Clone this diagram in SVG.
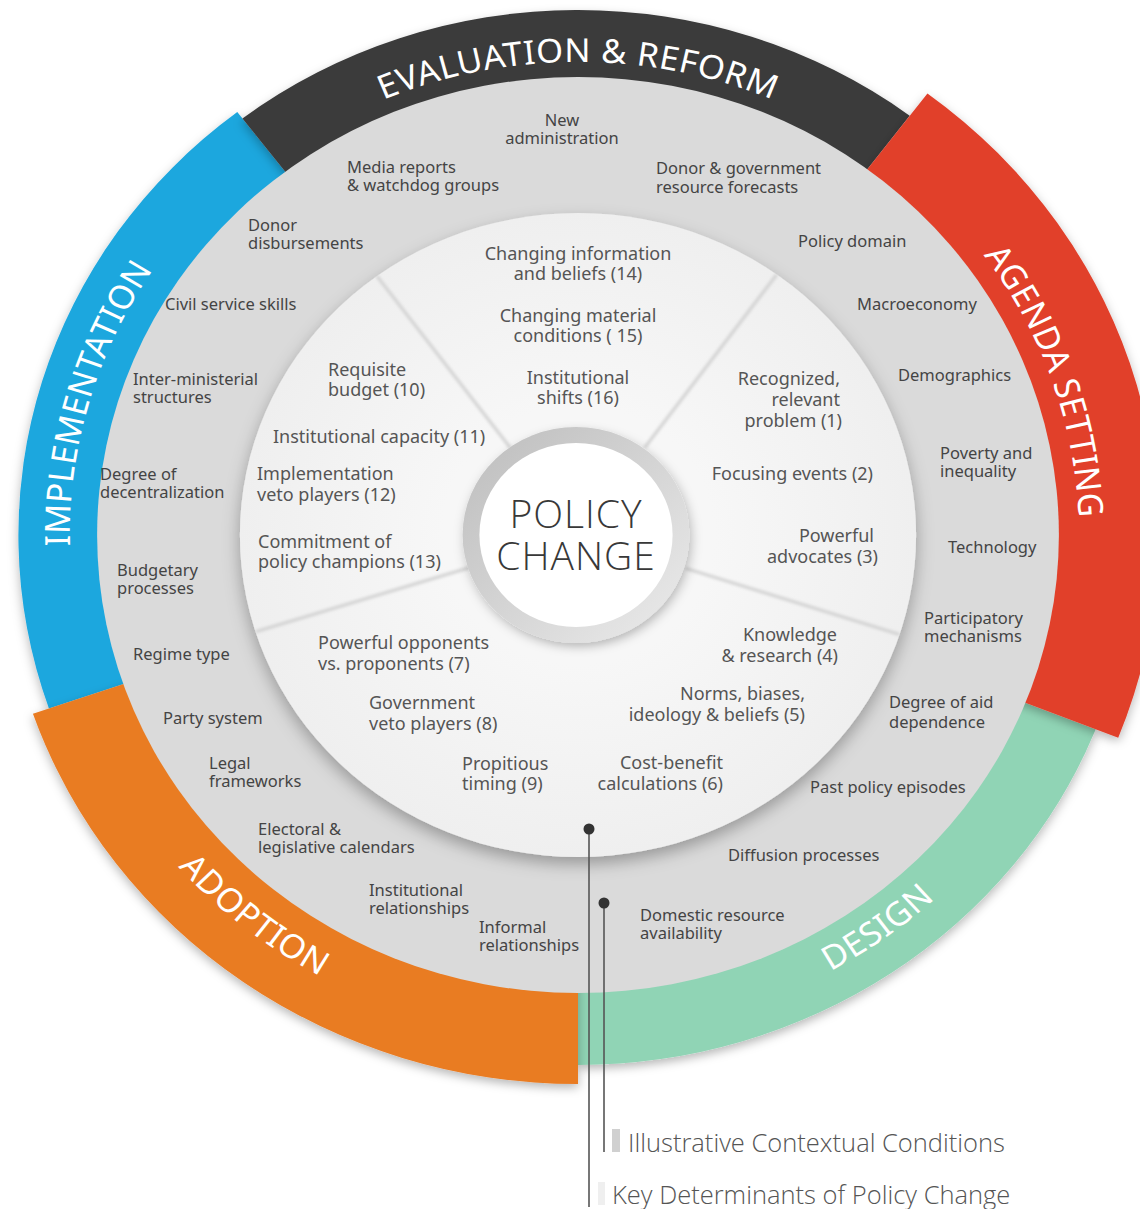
<svg xmlns="http://www.w3.org/2000/svg" width="1140" height="1209" viewBox="0 0 1140 1209">
<defs>
<style>
text{font-family:'Noto Sans','DejaVu Sans',sans-serif}
.ctx{font-size:16.5px;fill:#444444}
.det{font-size:18px;fill:#555555}
.seg{font-size:33px;fill:#ffffff;letter-spacing:0.5px}
.mid{text-anchor:middle}
.end{text-anchor:end}
.ctr{font-family:'Open Sans','Noto Sans',sans-serif;font-size:39px;fill:#383838;font-weight:300;text-anchor:middle;letter-spacing:1px}
.leg{font-family:'Open Sans','Noto Sans',sans-serif;font-size:25.5px;fill:#555555;font-weight:300}
.divl{stroke:#d2d2d2;stroke-width:3;filter:url(#blur)}
.conn{stroke:#555555;stroke-width:1.6;fill:none}
.dot{fill:#333333}
</style>
<filter id="segShadow" x="-20%" y="-20%" width="140%" height="140%">
<feDropShadow dx="0" dy="4" stdDeviation="5" flood-color="#000" flood-opacity="0.28"/>
</filter>
<filter id="diskShadow" x="-20%" y="-20%" width="140%" height="140%">
<feDropShadow dx="0" dy="7" stdDeviation="8" flood-color="#000" flood-opacity="0.3"/>
</filter>
<filter id="ctrShadow" x="-30%" y="-30%" width="160%" height="160%">
<feDropShadow dx="2" dy="4" stdDeviation="5" flood-color="#000" flood-opacity="0.25"/>
</filter>
<filter id="blur" x="-20%" y="-20%" width="140%" height="140%">
<feGaussianBlur stdDeviation="1.5"/>
</filter>
<linearGradient id="ringGrad" x1="0" y1="0" x2="1" y2="1">
<stop offset="0" stop-color="#bcbcbc"/>
<stop offset="1" stop-color="#ececec"/>
</linearGradient>
<radialGradient id="whiteGrad" cx="0.5" cy="0.5" r="0.5">
<stop offset="0.4" stop-color="#f7f7f7"/>
<stop offset="1" stop-color="#efefef"/>
</radialGradient>
<path id="pEval" d="M -444.5 -161.8 A 473 473 0 0 1 444.5 -161.8"/>
<path id="pAgenda" d="M 171.0 -445.3 A 477 477 0 0 1 408.9 245.7"/>
<path id="pImpl" d="M -401.2 270.7 A 484 484 0 0 1 -196.9 -442.2"/>
<path id="pAdopt" d="M -504.9 8.8 A 505 505 0 0 0 96.4 495.7"/>
<path id="pDesign" d="M -120.5 483.2 A 498 498 0 0 0 496.8 34.8"/>
</defs>

<rect width="1140" height="1209" fill="#ffffff"/>

<g id="wheel" transform="translate(578,535) scale(1.05,1)">
  <g id="stage-implementation">
    <path d="M -503.9 173.5 A 533 533 0 0 1 -324.5 -422.9 L -267.9 -349.1 A 440 440 0 0 0 -416.0 143.3 Z" fill="#1fa7de" filter="url(#segShadow)"/>
    <text class="seg"><textPath href="#pImpl" startOffset="50%" text-anchor="middle">IMPLEMENTATION</textPath></text>
  </g>
  <g id="stage-evaluation">
    <path d="M -319.6 -416.5 A 525 525 0 0 1 315.9 -419.3 L 264.8 -351.4 A 440 440 0 0 0 -267.9 -349.1 Z" fill="#3b3b3b" filter="url(#segShadow)"/>
    <text class="seg"><textPath href="#pEval" startOffset="50%" text-anchor="middle">EVALUATION &amp; REFORM</textPath></text>
  </g>
  <g id="stage-design">
    <path d="M 493.1 194.2 A 530 530 0 0 1 0 530 L 0 440 A 440 440 0 0 0 409.4 161.3 Z" fill="#90d4b5" filter="url(#segShadow)"/>
    <text class="seg"><textPath href="#pDesign" startOffset="50%" text-anchor="middle">DESIGN</textPath></text>
  </g>
  <g id="stage-adoption">
    <path d="M 0 549 A 549 549 0 0 1 -519.1 178.8 L -416.0 143.3 A 440 440 0 0 0 0 440 Z" fill="#e97b22" filter="url(#segShadow)"/>
    <text class="seg"><textPath href="#pAdopt" startOffset="50%" text-anchor="middle">ADOPTION</textPath></text>
  </g>
  <g id="stage-agenda">
    <path d="M 332.8 -441.6 A 553 553 0 0 1 514.5 202.7 L 409.4 161.3 A 440 440 0 0 0 264.8 -351.4 Z" fill="#e1402c" filter="url(#segShadow)"/>
    <text class="seg"><textPath href="#pAgenda" startOffset="50%" text-anchor="middle">AGENDA SETTING</textPath></text>
  </g>
  <circle id="context-ring" r="458" fill="#dadada"/>
  <circle id="determinant-disk" r="322" fill="url(#whiteGrad)" filter="url(#diskShadow)"/>
  <g id="sector-dividers">
    <line class="divl" x1="-64.2" y1="-86.8" x2="-191.5" y2="-258.9"/>
    <line class="divl" x1="63.5" y1="-87.4" x2="189.3" y2="-260.5"/>
    <line class="divl" x1="102.7" y1="33.4" x2="306.3" y2="99.5"/>
    <line class="divl" x1="0" y1="108" x2="0" y2="322"/>
    <line class="divl" x1="-103.0" y1="32.5" x2="-307.1" y2="96.8"/>
  </g>
</g>

<g id="policy-change">
  <g transform="translate(576,535) scale(1.05,1)">
    <circle r="108" fill="url(#ringGrad)" filter="url(#ctrShadow)"/>
    <circle r="92" fill="#ffffff"/>
  </g>
  <text class="ctr" x="576" y="528">POLICY<tspan x="576" dy="42">CHANGE</tspan></text>
</g>

<g id="context-conditions">
  <text id="c-new-admin" class="ctx mid" x="562" y="126">New<tspan x="562" dy="18">administration</tspan></text>
  <text id="c-media" class="ctx" x="347" y="173">Media reports<tspan x="347" dy="18">&amp; watchdog groups</tspan></text>
  <text id="c-forecasts" class="ctx" x="656" y="174">Donor &amp; government<tspan x="656" dy="19">resource forecasts</tspan></text>
  <text id="c-disbursements" class="ctx" x="248" y="231">Donor<tspan x="248" dy="18">disbursements</tspan></text>
  <text id="c-policy-domain" class="ctx" x="798" y="247">Policy domain</text>
  <text id="c-civil-service" class="ctx" x="165" y="310">Civil service skills</text>
  <text id="c-macro" class="ctx" x="857" y="310">Macroeconomy</text>
  <text id="c-interministerial" class="ctx" x="133" y="385">Inter-ministerial<tspan x="133" dy="18">structures</tspan></text>
  <text id="c-demographics" class="ctx" x="898" y="381">Demographics</text>
  <text id="c-decentralization" class="ctx" x="100" y="480">Degree of<tspan x="100" dy="18">decentralization</tspan></text>
  <text id="c-poverty" class="ctx" x="940" y="459">Poverty and<tspan x="940" dy="18">inequality</tspan></text>
  <text id="c-budgetary" class="ctx" x="117" y="576">Budgetary<tspan x="117" dy="18">processes</tspan></text>
  <text id="c-technology" class="ctx" x="948" y="553">Technology</text>
  <text id="c-regime" class="ctx" x="133" y="660">Regime type</text>
  <text id="c-participatory" class="ctx" x="924" y="624">Participatory<tspan x="924" dy="18">mechanisms</tspan></text>
  <text id="c-party" class="ctx" x="163" y="724">Party system</text>
  <text id="c-aid" class="ctx" x="889" y="708">Degree of aid<tspan x="889" dy="20">dependence</tspan></text>
  <text id="c-legal" class="ctx" x="209" y="769">Legal<tspan x="209" dy="18">frameworks</tspan></text>
  <text id="c-past" class="ctx" x="810" y="793">Past policy episodes</text>
  <text id="c-electoral" class="ctx" x="258" y="835">Electoral &amp;<tspan x="258" dy="18">legislative calendars</tspan></text>
  <text id="c-diffusion" class="ctx" x="728" y="861">Diffusion processes</text>
  <text id="c-institutional-rel" class="ctx" x="369" y="896">Institutional<tspan x="369" dy="18">relationships</tspan></text>
  <text id="c-informal-rel" class="ctx" x="479" y="933">Informal<tspan x="479" dy="18">relationships</tspan></text>
  <text id="c-domestic" class="ctx" x="640" y="921">Domestic resource<tspan x="640" dy="18">availability</tspan></text>
</g>

<g id="key-determinants">
  <text id="d14" class="det mid" x="578" y="260">Changing information<tspan x="578" dy="20">and beliefs (14)</tspan></text>
  <text id="d15" class="det mid" x="578" y="322">Changing material<tspan x="578" dy="20">conditions ( 15)</tspan></text>
  <text id="d16" class="det mid" x="578" y="384">Institutional<tspan x="578" dy="20">shifts (16)</tspan></text>
  <text id="d10" class="det" x="328" y="376">Requisite<tspan x="328" dy="20">budget (10)</tspan></text>
  <text id="d11" class="det" x="273" y="443">Institutional capacity (11)</text>
  <text id="d12" class="det" x="257" y="480">Implementation<tspan x="257" dy="21">veto players (12)</tspan></text>
  <text id="d13" class="det" x="258" y="548">Commitment of<tspan x="258" dy="20">policy champions (13)</tspan></text>
  <text id="d1" class="det end" x="840" y="385">Recognized,<tspan x="840" dy="21">relevant</tspan><tspan x="842" dy="21">problem (1)</tspan></text>
  <text id="d2" class="det end" x="873" y="480">Focusing events (2)</text>
  <text id="d3" class="det end" x="874" y="542">Powerful<tspan x="878" dy="21">advocates (3)</tspan></text>
  <text id="d4" class="det end" x="837" y="641">Knowledge<tspan x="838" dy="21">&amp; research (4)</tspan></text>
  <text id="d5" class="det end" x="805" y="700">Norms, biases,<tspan x="805" dy="21">ideology &amp; beliefs (5)</tspan></text>
  <text id="d6" class="det end" x="723" y="769">Cost-benefit<tspan x="723" dy="21">calculations (6)</tspan></text>
  <text id="d7" class="det" x="318" y="649">Powerful opponents<tspan x="318" dy="21">vs. proponents (7)</tspan></text>
  <text id="d8" class="det" x="369" y="709">Government<tspan x="369" dy="21">veto players (8)</tspan></text>
  <text id="d9" class="det" x="462" y="770">Propitious<tspan x="462" dy="20">timing (9)</tspan></text>
</g>

<g id="connectors">
  <line class="conn" x1="589" y1="829" x2="589" y2="1207"/>
  <circle class="dot" cx="589" cy="829" r="5.5"/>
  <line class="conn" x1="604" y1="903" x2="604" y2="1152"/>
  <circle class="dot" cx="604" cy="903" r="5.5"/>
</g>

<g id="legend">
  <g id="legend-context">
    <rect x="612" y="1129" width="8" height="23" fill="#d0d0d0"/>
    <text class="leg" x="628" y="1152">Illustrative Contextual Conditions</text>
  </g>
  <g id="legend-determinants">
    <rect x="598" y="1182" width="7" height="23" fill="#efefef"/>
    <text class="leg" x="612" y="1204">Key Determinants of Policy Change</text>
  </g>
</g>
</svg>
